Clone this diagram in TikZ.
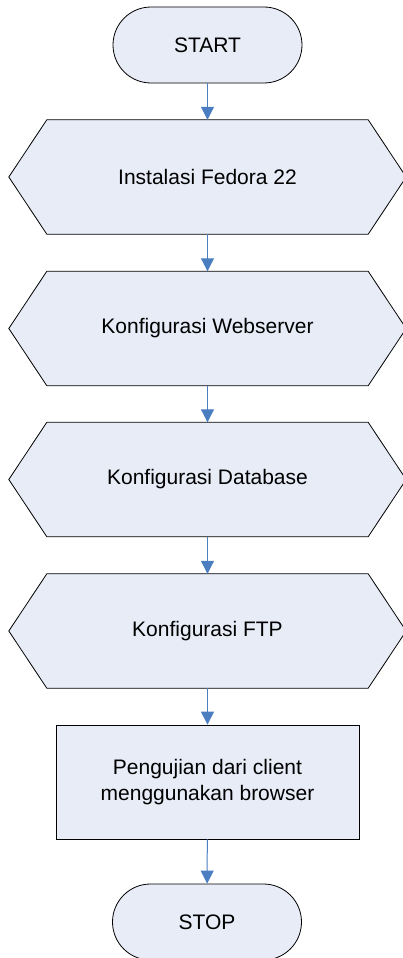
\documentclass[tikz,border=0pt]{standalone}
\usepackage{fontspec}
\setmainfont{Liberation Sans}
\usetikzlibrary{arrows.meta,backgrounds}
\definecolor{boxfill}{RGB}{231,236,247}
\definecolor{arrowblue}{RGB}{74,126,193}
\begin{document}
\begin{tikzpicture}[x=1pt,y=-1pt,
  txt/.style={font=\fontsize{21}{26}\selectfont, align=center, inner sep=0pt},
  terminal/.style={txt, draw=black, fill=boxfill, line width=0.8pt, rounded corners=38pt, minimum width=189pt, minimum height=76pt},
  hexnode/.style={txt, minimum width=397pt, minimum height=114pt},
  hexshape/.style={draw=black, fill=boxfill, line width=0.8pt, line join=miter},
  procbox/.style={txt, draw=black, fill=boxfill, line width=0.8pt, minimum width=303pt, minimum height=114pt},
  flow/.style={draw=arrowblue, line width=1pt, -{Triangle[width=13pt,length=13pt]}}]
\useasboundingbox (0,0) rectangle (403,958);
\node[terminal] (start) at (207.5,45) {START};
\node[hexnode] (h1) at (207.5,177) {Instalasi Fedora 22};
\node[hexnode] (h2) at (207.5,328.5) {Konfigurasi Webserver};
\node[hexnode] (h3) at (207.5,479.5) {Konfigurasi Database};
\node[hexnode] (h4) at (207.5,631) {Konfigurasi FTP};
\node[procbox] (proc) at (207.5,782) {Pengujian dari client\\menggunakan browser};
\node[terminal] (stop) at (207,922) {STOP};
\begin{scope}[on background layer]
\foreach \h in {h1,h2,h3,h4}{
  \path[hexshape] (\h.west) -- ([xshift=38pt]\h.north west) -- ([xshift=-38pt]\h.north east) -- (\h.east) -- ([xshift=-38pt]\h.south east) -- ([xshift=38pt]\h.south west) -- cycle;
}
\end{scope}
\draw[flow] (start) -- (h1);
\draw[flow] (h1) -- (h2);
\draw[flow] (h2) -- (h3);
\draw[flow] (h3) -- (h4);
\draw[flow] (h4) -- (proc);
\draw[flow] (proc) -- (stop);
\end{tikzpicture}
\end{document}
